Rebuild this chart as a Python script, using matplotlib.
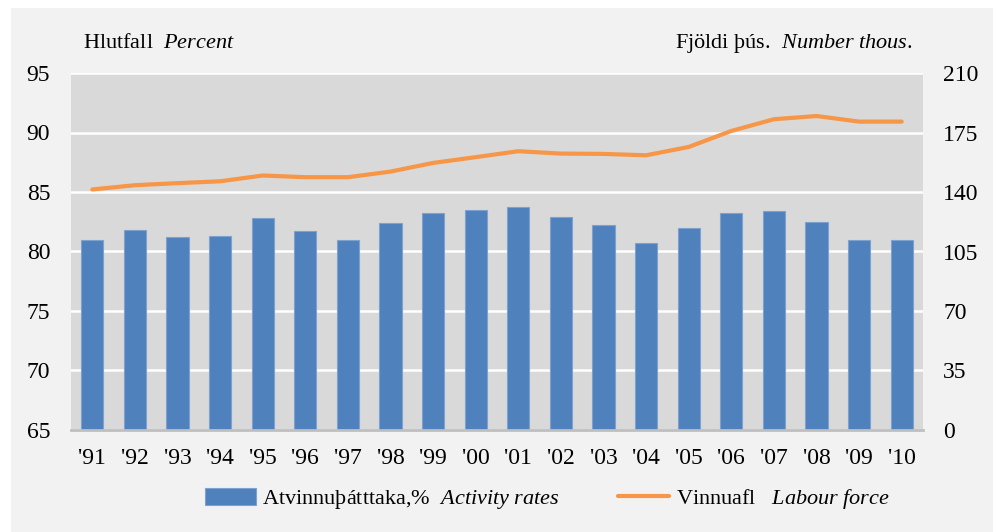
import numpy as np
import matplotlib.pyplot as plt
from matplotlib.patches import Rectangle

plt.rcParams['font.family'] = ['Liberation Serif', 'DejaVu Serif']
plt.rcParams['mathtext.fontset'] = 'custom'
plt.rcParams['mathtext.rm'] = 'Liberation Serif'
plt.rcParams['mathtext.it'] = 'Liberation Serif:italic'

years = ["'91", "'92", "'93", "'94", "'95", "'96", "'97", "'98", "'99", "'00",
         "'01", "'02", "'03", "'04", "'05", "'06", "'07", "'08", "'09", "'10"]
activity = [81.0, 81.8, 81.2, 81.3, 82.8, 81.7, 81.0, 82.4, 83.2, 83.5,
            83.7, 82.9, 82.2, 80.7, 82.0, 83.2, 83.4, 82.5, 81.0, 81.0]
labour = [141.5, 144.0, 145.2, 146.3, 149.7, 148.7, 148.7, 152.0, 157.1, 160.5,
          164.0, 162.6, 162.4, 161.6, 166.5, 175.9, 182.8, 184.7, 181.4, 181.4]
left_ticks = [65, 70, 75, 80, 85, 90, 95]
right_ticks = [0, 35, 70, 105, 140, 175, 210]

W, H = 998, 532
fig = plt.figure(figsize=(W / 100, H / 100), dpi=100, facecolor='white')
# light grey panel behind the whole chart
fig.patches.append(Rectangle((11 / W, 0), 982 / W, 524 / H, transform=fig.transFigure,
                             facecolor='#f2f2f2', edgecolor='none', zorder=-10))

ax = fig.add_axes([71 / W, (H - 430) / H, 852 / W, 357 / H])
ax.set_facecolor('#d9d9d9')
x = np.arange(len(years))

ax.bar(x, activity, width=0.52, color='#4f81bd', edgecolor='#7ea2d0', linewidth=0.8,
       zorder=3, label=r'Atvinnuþátttaka,%  $\it{Activity\ rates}$')
ax.set_ylim(65, 95)
ax.set_yticks(left_ticks)
ax.set_xlim(-0.5, len(years) - 0.5)
ax.set_xticks(x)
ax.set_xticklabels(years)
ax.grid(axis='y', color='white', linewidth=1.8, zorder=1)
ax.set_axisbelow(True)
for s in ['top', 'left', 'right']:
    ax.spines[s].set_visible(False)
ax.spines['bottom'].set_color('#bfbfbf')
ax.spines['bottom'].set_linewidth(2)
ax.spines['bottom'].set_zorder(4)
ax.tick_params(axis='both', length=0, labelsize=17)
ax.tick_params(axis='y', pad=15)
ax.tick_params(axis='x', pad=13)

ax2 = ax.twinx()
ax2.plot(x, labour, color='#f79646', linewidth=3, solid_capstyle='round',
         label=r'Vinnuafl   $\it{Labour\ force}$', zorder=5)
ax2.set_ylim(0, 210)
ax2.set_yticks(right_ticks)
for s in ax2.spines.values():
    s.set_visible(False)
ax2.tick_params(axis='y', length=0, labelsize=17, pad=14.5)

fig.text(83 / W, (H - 48) / H, r'Hlutfall  $\it{Percent}$', fontsize=16, va='baseline')
fig.text(913 / W, (H - 48) / H, r'Fjöldi þús.  $\it{Number\ thous.}$', fontsize=16,
         va='baseline', ha='right')

h1, l1 = ax.get_legend_handles_labels()
h2, l2 = ax2.get_legend_handles_labels()
fig.legend(h1 + h2, l1 + l2, loc='center', bbox_to_anchor=(547 / W, (H - 499) / H),
           ncol=2, frameon=False, fontsize=16, handlelength=2.3, handleheight=0.8,
           handletextpad=0.3, columnspacing=2.6)

fig.savefig('out.png', dpi=100, facecolor='white')
